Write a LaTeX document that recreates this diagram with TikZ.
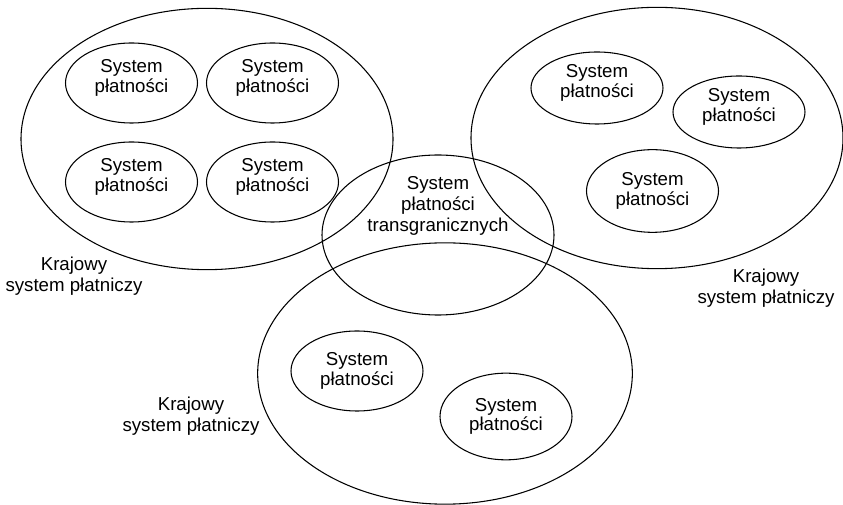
\documentclass[tikz,border=0pt]{standalone}
\usepackage{fontspec}
\setmainfont{Liberation Sans}
\usetikzlibrary{shapes.geometric}

\tikzset{
	bigsys/.style={draw, ellipse, line width=0.8pt, inner sep=0pt, minimum width=279pt, minimum height=196pt},
	smallsys/.style={draw, ellipse, line width=0.8pt, inner sep=0pt, minimum width=99pt, minimum height=60pt, align=center, font=\fontsize{14}{14.8}\selectfont},
	txtup/.style={text depth=10pt},
	krajlabel/.style={align=center, inner sep=0.75pt, font=\fontsize{14}{15.5}\selectfont}
}

\begin{document}
\begin{tikzpicture}[x=0.75pt,y=0.75pt,yscale=-1,xscale=1]
	\useasboundingbox (0,0) rectangle (843,505);

	%Shape: Ellipse [left]
	\node [bigsys] (kleft) at (207,139) {};
	%Shape: Ellipse [right]
	\node [bigsys] (kright) at (657,138) {};
	%Shape: Ellipse [bottom]
	\node [bigsys, minimum width=281pt] (kbottom) at (445,373.5) {};
	%Shape: Ellipse [cross-border]
	\node [draw, ellipse, line width=0.8pt, inner sep=0pt, minimum width=174pt, minimum height=120pt] (trans) at (438,235) {};

	% Payment systems, left
	\node [smallsys, txtup] (l1) at (131.5,83) {System\\płatności};
	\node [smallsys, txtup] (l2) at (272.5,83) {System\\płatności};
	\node [smallsys, txtup] (l3) at (131.5,182) {System\\płatności};
	\node [smallsys, txtup] (l4) at (272.5,182) {System\\płatności};

	% Payment systems, right
	\node [smallsys, txtup, minimum height=54pt] (r1) at (597,88) {System\\płatności};
	\node [smallsys, txtup, minimum height=54pt] (r2) at (739,112) {System\\płatności};
	\node [smallsys, minimum height=62pt] (r3) at (652.5,191) {System\\płatności};

	% Payment systems, bottom
	\node [smallsys] (b1) at (357,371) {System\\płatności};
	\node [smallsys, minimum height=65pt] (b2) at (506,416.5) {System\\płatności};

	% Text Node
	\node [krajlabel] (transtxt) at (438,206) {System\\płatności\\transgranicznych};
	% Text Node
	\node [krajlabel] (kleftlbl) at (74,276) {Krajowy\\system płatniczy};
	% Text Node
	\node [krajlabel] (krightlbl) at (766,288) {Krajowy\\system płatniczy};
	% Text Node
	\node [krajlabel] (kbottomlbl) at (191,416) {Krajowy\\system płatniczy};

\end{tikzpicture}
\end{document}
